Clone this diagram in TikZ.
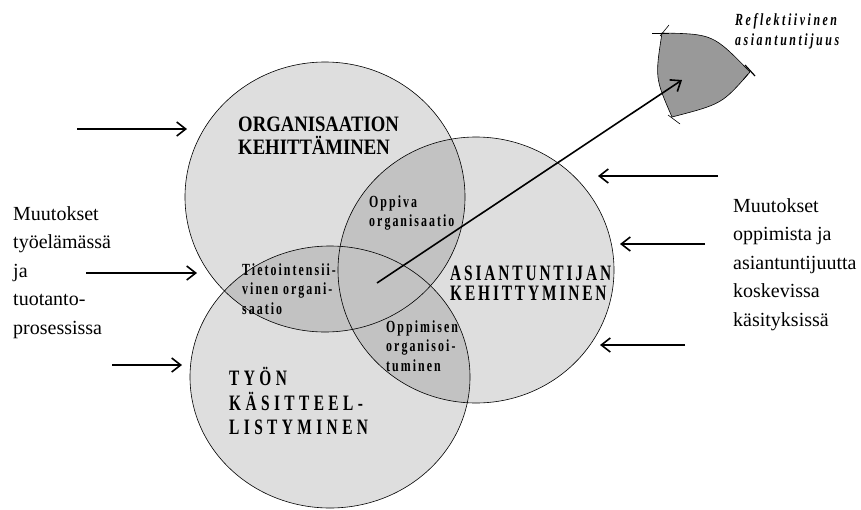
\documentclass[tikz,border=0pt]{standalone}
\usepackage{fontspec}
\setmainfont{Liberation Serif}
\newfontfamily\narrowbold[FakeStretch=0.85]{Liberation Serif Bold}
\newfontfamily\slimbold[FakeStretch=0.7]{Liberation Serif Bold}
\newfontfamily\slimboldit[FakeStretch=0.7]{Liberation Serif Bold Italic}
\usetikzlibrary{arrows.meta}

\definecolor{vennlight}{gray}{0.87}
\definecolor{vennmid}{gray}{0.76}
\definecolor{venndark}{gray}{0.60}

\begin{document}
\begin{tikzpicture}[x=1pt, y=-1pt, >={Straight Barb[length=9pt,width=14pt]},
		flow/.style={->, line width=1.6pt},
		ring/.style={line width=0.6pt},
		note/.style={font=\fontsize{20}{28.5}\selectfont, align=left, anchor=north west, inner sep=0},
		area/.style={font=\fontsize{22}{23}\selectfont\narrowbold, align=left, anchor=north west, inner sep=0},
		overlap/.style={font=\fontsize{17}{19.6}\selectfont\slimbold\addfontfeature{LetterSpace=12}, align=left, anchor=north west, inner sep=0}]
		\useasboundingbox (0,0) rectangle (861,509);

		% the three areas
		\fill[vennlight] (325,197) ellipse [x radius=140pt, y radius=135pt];
		\fill[vennlight] (476,270) ellipse [x radius=138pt, y radius=133pt];
		\fill[vennlight] (330,377) ellipse [x radius=140pt, y radius=131pt];
		\begin{scope}
			\clip (325,197) ellipse [x radius=140pt, y radius=135pt];
			\fill[vennmid] (476,270) ellipse [x radius=138pt, y radius=133pt];
			\fill[vennmid] (330,377) ellipse [x radius=140pt, y radius=131pt];
			\clip (476,270) ellipse [x radius=138pt, y radius=133pt];
			\fill[venndark] (330,377) ellipse [x radius=140pt, y radius=131pt];
		\end{scope}
		\begin{scope}
			\clip (476,270) ellipse [x radius=138pt, y radius=133pt];
			\fill[vennmid] (330,377) ellipse [x radius=140pt, y radius=131pt];
		\end{scope}
		\draw[ring] (325,197) ellipse [x radius=140pt, y radius=135pt];
		\draw[ring] (476,270) ellipse [x radius=138pt, y radius=133pt];
		\draw[ring] (330,377) ellipse [x radius=140pt, y radius=131pt];

		% reflective expertise
		\filldraw[ring, fill=venndark] (662,33) .. controls (713,34) .. (750,72)
			.. controls (722,104) .. (672,117) .. controls (655,78) .. (662,33) -- cycle;
		\draw[ring] (652,33) -- (669,33);
		\draw[ring] (660,36) -- (669,25);
		\draw[line width=1.2pt] (745,65) -- (755,76);
		\draw[ring] (743,80) -- (748,74);
		\draw[ring] (668,115) -- (680,124);

		\node[area] (org) at (238,117) {ORGANISAATION\\KEHITTÄMINEN};
		\node[area, font=\fontsize{22}{20}\selectfont\slimbold\addfontfeature{LetterSpace=13}] (expert) at (450,266) {ASIANTUNTIJAN\\KEHITTYMINEN};
		\node[area, font=\fontsize{22}{24.5}\selectfont\slimbold\addfontfeature{LetterSpace=20}] (work) at (229,367) {TYÖN\\KÄSITTEEL-\\LISTYMINEN};
		\node[overlap] (learnorg) at (369,195) {Oppiva\\organisaatio};
		\node[overlap] (knoworg) at (242,263) {Tietointensii-\\vinen organi-\\saatio};
		\node[overlap] (orglearn) at (386,320) {Oppimisen\\organisoi-\\tuminen};
		\node[overlap, font=\fontsize{17}{20}\selectfont\slimboldit\addfontfeature{LetterSpace=15}] (reflex) at (735,13) {Reflektiivinen\\asiantuntijuus};
		\node[note] (worklife) at (13,206) {Muutokset\\työelämässä\\ja\\tuotanto-\\prosessissa};
		\node[note] (views) at (733,198) {Muutokset\\oppimista ja\\asiantuntijuutta\\koskevissa\\käsityksissä};

		% arrows
		\coordinate (core) at (377,283);
		\coordinate (peak) at (682,80);
		\draw[flow] (core) -- (peak);
		\coordinate (l1) at (77,129);   \coordinate (l1e) at (187,129);
		\coordinate (l2) at (86,273);   \coordinate (l2e) at (197,273);
		\coordinate (l3) at (112,365);  \coordinate (l3e) at (182,365);
		\coordinate (r1) at (718,176);  \coordinate (r1e) at (598,176);
		\coordinate (r2) at (705,244);  \coordinate (r2e) at (620,244);
		\coordinate (r3) at (685,345);  \coordinate (r3e) at (600,345);
		\draw[flow] (l1) -- (l1e);
		\draw[flow] (l2) -- (l2e);
		\draw[flow] (l3) -- (l3e);
		\draw[flow] (r1) -- (r1e);
		\draw[flow] (r2) -- (r2e);
		\draw[flow] (r3) -- (r3e);
	\end{tikzpicture}
\end{document}
